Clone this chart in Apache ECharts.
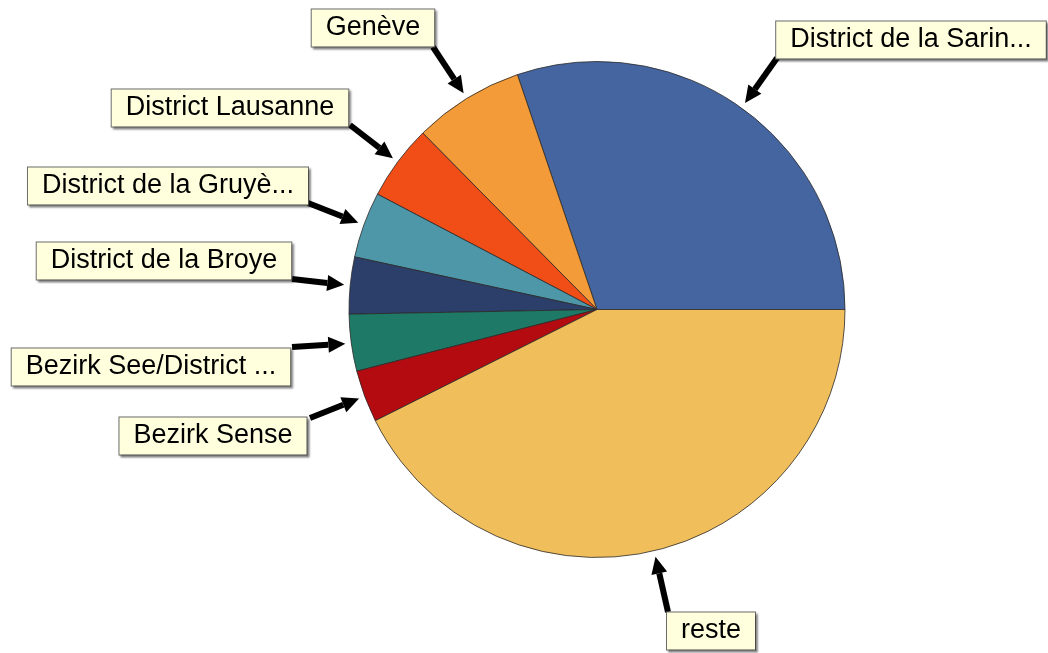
<!DOCTYPE html>
<html>
<head>
<meta charset="utf-8">
<script src="https://cdn.jsdelivr.net/npm/echarts@6/dist/echarts.min.js"></script>
<style>
    html, body { margin: 0; padding: 0; background: #fff; }
    #main { width: 1048px; height: 653px; }
</style>
</head>
<body>
<div id="main"></div>
<script>
// data
var categories = ['District de la Sarin...', 'Genève', 'District Lausanne', 'District de la Gruyè...',
    'District de la Broye', 'Bezirk See/District ...', 'Bezirk Sense', 'reste'];
var shares = [30.2, 7.2, 4.9, 4.3, 3.7, 3.7, 3.4, 42.6];
var colors = ['#4565a0', '#f29b38', '#f04e16', '#4e97a8', '#2c3f6b', '#1e7a66', '#b30b10', '#f1be5c'];

// layout of the label boxes and where the arrows start
var cx = 597, cy = 309.5, R = 248;
var boxPos = [[911, 40], [373, 28], [230, 108], [168, 186], [164, 261], [151, 367], [213, 436], [711, 631]];
var tails = [[777, 58], [433, 47], [350, 125], [308, 203], [292, 279], [292, 347], [310, 418], [668, 612]];

var total = shares.reduce(function (a, b) { return a + b; }, 0);
var arrows = [];
var cum = 0;
shares.forEach(function (v, i) {
    var mid = (cum + v / 2) / total * Math.PI * 2; // counterclockwise from 3 o'clock
    cum += v;
    var tip = [cx + (R + 6) * Math.cos(mid), cy - (R + 6) * Math.sin(mid)];
    var t = tails[i];
    var dx = tip[0] - t[0], dy = tip[1] - t[1];
    var len = Math.sqrt(dx * dx + dy * dy);
    var ux = dx / len, uy = dy / len;
    var base = [tip[0] - 17 * ux, tip[1] - 17 * uy];
    var head = [tip, [base[0] - 8 * uy, base[1] + 8 * ux], [base[0] + 8 * uy, base[1] - 8 * ux]];
    arrows.push({ base: base, head: head, tail: t });
});

var myChart = echarts.init(document.getElementById('main'));
var option = {
    animation: false,
    color: colors,
    graphic: arrows.map(function (a) {
        return {
            type: 'polygon',
            z: 100,
            shape: { points: a.head },
            style: { fill: '#000' }
        };
    }),
    series: [
        {
            type: 'pie',
            center: [cx, cy],
            radius: R,
            startAngle: 0,
            clockwise: false,
            avoidLabelOverlap: false,
            emphasis: { disabled: true },
            itemStyle: {
                borderColor: '#2a2a2a',
                borderWidth: 0.8
            },
            data: categories.map(function (c, i) {
                return { name: c, value: shares[i] };
            }),
            label: {
                show: true,
                position: 'outside',
                formatter: '{b}',
                color: '#000',
                fontFamily: 'Liberation Sans, Arial, sans-serif',
                fontSize: 27,
                lineHeight: 27,
                backgroundColor: '#ffffde',
                borderColor: '#6b6b6b',
                borderWidth: 1,
                padding: [6, 14, 4, 14],
                shadowColor: 'rgba(0,0,0,0.35)',
                shadowBlur: 2,
                shadowOffsetX: 2,
                shadowOffsetY: 2
            },
            labelLine: {
                show: true,
                lineStyle: { color: '#000', width: 6 }
            },
            labelLayout: function (params) {
                var i = params.dataIndex;
                var a = arrows[i];
                return {
                    x: boxPos[i][0],
                    y: boxPos[i][1],
                    align: 'center',
                    verticalAlign: 'middle',
                    labelLinePoints: [a.base, a.tail, a.tail]
                };
            }
        }
    ]
};
myChart.setOption(option, true);
</script>
</body>
</html>
